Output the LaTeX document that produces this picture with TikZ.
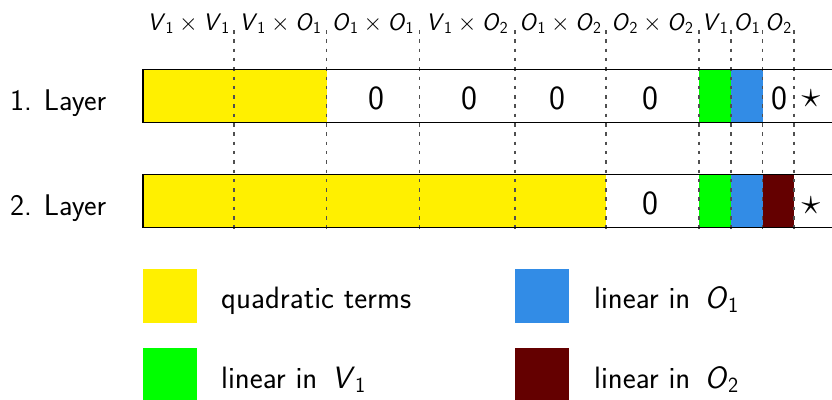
\RequirePackage{fix-cm}
\documentclass[tikz,border=0pt]{standalone}
\usepackage{fontspec}
\renewcommand{\familydefault}{\sfdefault}

\definecolor{quadyellow}{RGB}{255,240,0}
\definecolor{linV}{RGB}{0,255,0}
\definecolor{linOa}{RGB}{50,140,230}
\definecolor{linOb}{RGB}{100,0,0}
\definecolor{sepgray}{RGB}{80,80,80}

% variable with index, e.g. V_1
\newcommand{\vx}[2]{\textit{#1}\textsubscript{#2}}
\newcommand{\tms}{\ensuremath{{}\times{}}}

\begin{document}
\begin{tikzpicture}[x=1bp,y=-1bp,
  toplbl/.style={font=\fontsize{24}{28}\selectfont, inner sep=0, anchor=base},
  rowlbl/.style={font=\fontsize{30}{36}\selectfont, inner sep=0, anchor=base west},
  zero/.style={font=\fontsize{34}{40}\selectfont, inner sep=0},
  starlbl/.style={font=\fontsize{38}{44}\selectfont, inner sep=0},
  leglbl/.style={font=\fontsize{31}{37}\selectfont, inner sep=0, anchor=base west},
  sep/.style={draw=sepgray, line width=1.2bp, dash pattern=on 3.5bp off 5.8bp},
  border/.style={draw=black, line width=1.2bp},
]
\useasboundingbox (0,0) rectangle (832,399);

% column boundaries
\foreach \n/\x in {0/143,1/234,2/326.7,3/419.3,4/515,5/606,6/699,7/731,8/762.7,9/794}
  \coordinate (c\n) at (\x,0);

% ---- layer 1 ----
\fill[quadyellow] (143,69.3) rectangle (326.7,122.7);
\fill[linV] (699,69.3) rectangle (731,122.7);
\fill[linOa] (731,69.3) rectangle (762.7,122.7);

% ---- layer 2 ----
\fill[quadyellow] (143,174.3) rectangle (606,227.7);
\fill[linV] (699,174.3) rectangle (731,227.7);
\fill[linOa] (731,174.3) rectangle (762.7,227.7);
\fill[linOb] (762.7,174.3) rectangle (794,227.7);

% dashed separators
\foreach \n in {1,...,9}
  \draw[sep] (c\n |- 0,30) -- (c\n |- 0,230);

% bar outlines
\draw[border] (832,69.3) -- (143,69.3) -- (143,122.7) -- (832,122.7);
\draw[border] (832,174.3) -- (143,174.3) -- (143,227.7) -- (832,227.7);

% column headings
\node[toplbl] (h1) at (188.5,30) {\vx{V}{1}\tms\vx{V}{1}};
\node[toplbl] (h2) at (280.4,30) {\vx{V}{1}\tms\vx{O}{1}};
\node[toplbl] (h3) at (373,30) {\vx{O}{1}\tms\vx{O}{1}};
\node[toplbl] (h4) at (467.2,30) {\vx{V}{1}\tms\vx{O}{2}};
\node[toplbl] (h5) at (560.5,30) {\vx{O}{1}\tms\vx{O}{2}};
\node[toplbl] (h6) at (652.5,30) {\vx{O}{2}\tms\vx{O}{2}};
\node[toplbl] (h7) at (715,30) {\vx{V}{1}};
\node[toplbl] (h8) at (746.9,30) {\vx{O}{1}};
\node[toplbl] (h9) at (778.4,30) {\vx{O}{2}};

% row labels
\node[rowlbl] (r1) at (10,110) {1.\hspace{0.4em}Layer};
\node[rowlbl] (r2) at (10,215) {2.\hspace{0.4em}Layer};

% zero blocks, layer 1
\node[zero] (z1) at (376,98) {0};
\node[zero] (z2) at (469,98) {0};
\node[zero] (z3) at (557,98) {0};
\node[zero] (z4) at (650,98) {0};
\node[zero] (z5) at (779.5,98) {0};
\node[starlbl] (s1) at (811,99) {$\star$};
% zero blocks, layer 2
\node[zero] (z6) at (650,203) {0};
\node[starlbl] (s2) at (811,206) {$\star$};

% legend
\fill[quadyellow] (143,269) rectangle (197,323);
\fill[linV] (143,348.3) rectangle (197,402);
\fill[linOa] (515,269) rectangle (569,323);
\fill[linOb] (515,348.3) rectangle (569,402);
\node[leglbl] (l1) at (221,308) {quadratic terms};
\node[leglbl] (l2) at (221,388) {linear in\hspace{0.15em} \vx{V}{1}};
\node[leglbl] (l3) at (594,308) {linear in\hspace{0.15em} \vx{O}{1}};
\node[leglbl] (l4) at (594,388) {linear in\hspace{0.15em} \vx{O}{2}};
\end{tikzpicture}
\end{document}
